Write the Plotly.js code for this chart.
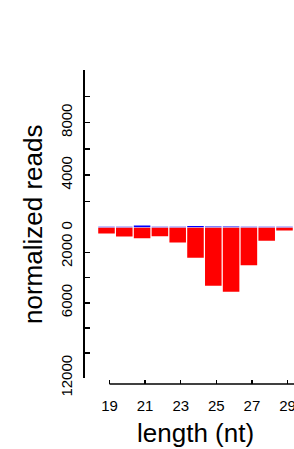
<!DOCTYPE html>
<html>
<head>
<meta charset="utf-8">
<script src="https://cdn.plot.ly/plotly-3.0.1.min.js"></script>
<style>html,body{margin:0;padding:0;background:#fff;}#chart{width:294px;height:449px;}</style>
</head>
<body>
<div id="chart"></div>
<script>
// read lengths (nt)
const lengths = [19, 20, 21, 22, 23, 24, 25, 26, 27, 28, 29];
// normalized reads, sense (upper, blue) and antisense (lower, red)
const plusReads = [60, 60, 150, 60, 60, 110, 70, 70, 60, 60, 60];
const minusReads = [480, 720, 850, 690, 1200, 2420, 4650, 5120, 3000, 1060, 240];
// axis labels
const xTickLabels = ["19", "21", "23", "25", "27", "29"];
const upperTickVals = [0, 2000, 4000, 6000, 8000, 10000, 12000];
const upperTickText = ["0", "", "4000", "", "8000", "", ""];
const lowerTickVals = [0, 2000, 4000, 6000, 8000, 10000, 12000];
const lowerTickText = ["", "2000", "", "6000", "", "", "12000"];

const FONT = "Liberation Sans, Arial, Helvetica, sans-serif";
const tickShift = 0.17;
const xTickVals = xTickLabels.map(s => Number(s) + tickShift);

const traces = [
  {type: "bar", x: lengths, y: plusReads, xaxis: "x", yaxis: "y",
   marker: {color: "#0000FF", line: {width: 0}}, hoverinfo: "x+y"},
  {type: "bar", x: lengths, y: minusReads, xaxis: "x", yaxis: "y2",
   marker: {color: "#FF0000", line: {width: 0}}, hoverinfo: "x+y"}
];

const yCommon = {
  anchor: "free", position: 0, showline: true, linecolor: "#000", linewidth: 1.5,
  ticks: "inside", ticklen: 5, tickwidth: 1.5, tickcolor: "#000",
  tickmode: "array", tickangle: -90, showgrid: false, zeroline: false,
  ticklabelstandoff: 5, ticklabeloverflow: "allow",
  tickfont: {family: FONT, size: 15, color: "#000"}
};

const layout = {
  width: 294, height: 449,
  margin: {l: 83, r: 0, t: 70, b: 65},
  paper_bgcolor: "#fff", plot_bgcolor: "#fff",
  showlegend: false, bargap: 0.07,
  font: {family: FONT, color: "#000"},
  xaxis: {
    range: [17.68, 29.534], anchor: "free", position: 0,
    showline: false, showgrid: false, zeroline: false,
    tickmode: "array", tickvals: xTickVals, ticktext: xTickLabels,
    ticks: "inside", ticklen: 4, tickwidth: 1.5, tickcolor: "#000",
    ticklabelstandoff: 11, ticklabeloverflow: "allow",
    tickfont: {family: FONT, size: 15, color: "#000"}
  },
  yaxis: Object.assign({}, yCommon, {
    domain: [0.4984, 1], range: [0, 12000],
    tickvals: upperTickVals, ticktext: upperTickText
  }),
  yaxis2: Object.assign({}, yCommon, {
    domain: [0.0191, 0.4984], range: [12000, 0],
    tickvals: lowerTickVals, ticktext: lowerTickText
  }),
  shapes: [{
    type: "line", xref: "x", yref: "paper",
    x0: xTickVals[0], x1: 31, y0: 0, y1: 0,
    line: {color: "#000", width: 1.5}
  }],
  annotations: [
    {text: "normalized reads", xref: "paper", yref: "paper", x: -0.237, y: 0.5096,
     xanchor: "center", yanchor: "middle", textangle: -90, showarrow: false,
     font: {family: FONT, size: 26, color: "#000"}},
    {text: "length (nt)", xref: "paper", yref: "paper", x: 0.533, y: -0.156,
     xanchor: "center", yanchor: "middle", showarrow: false,
     font: {family: FONT, size: 26, color: "#000"}}
  ]
};

Plotly.newPlot("chart", traces, layout, {displayModeBar: false, staticPlot: true});
</script>
</body>
</html>
